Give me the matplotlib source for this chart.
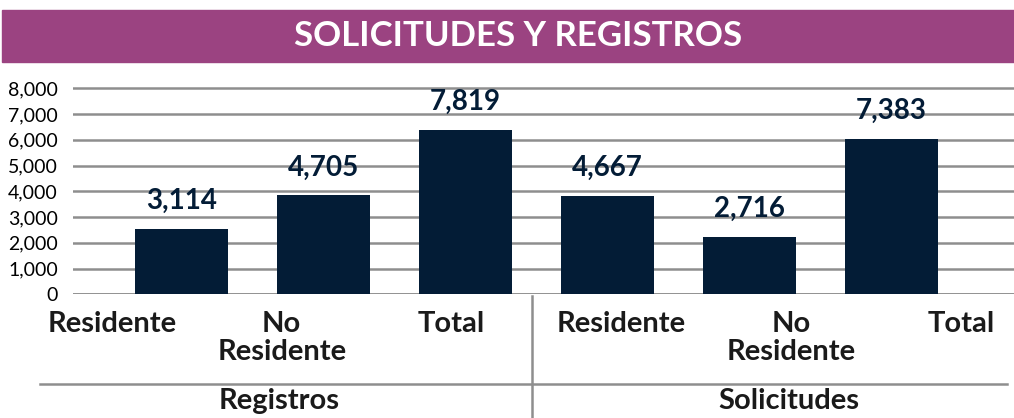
import numpy as np
import matplotlib
matplotlib.use("Agg")
import matplotlib.pyplot as plt
from matplotlib.patches import Rectangle
from matplotlib.lines import Line2D
import matplotlib.transforms as mtransforms

# datos
grupos = ["Registros", "Solicitudes"]
categorias = ["Residente", "No\nResidente", "Total", "Residente", "No\nResidente", "Total"]
valores = [3114, 4705, 7819, 4667, 2716, 7383]
ticks_txt = ["0", "1,000", "2,000", "3,000", "4,000", "5,000", "6,000", "7,000", "8,000"]

W, H = 1014, 418
morado = "#9B4381"
azul = "#031C36"
gris = "#8E8E8E"

plt.rcParams['font.family'] = ['Lato', 'DejaVu Sans']

def fx(px):
    return px / W

def fy(py):
    return 1 - py / H

fig = plt.figure(figsize=(W / 100, H / 100), dpi=100)

# banda del titulo
fig.add_artist(Rectangle((fx(2), fy(62)), fx(1012), 52 / H, transform=fig.transFigure,
                         color=morado, zorder=0))
fig.text(fx(518), fy(36), "SOLICITUDES Y REGISTROS", color="white", fontsize=25,
         fontweight="bold", ha="center", va="center")

ax = fig.add_axes([fx(73), fy(294.3), 1 - fx(73), (294.3 - 80) / H])
x = np.arange(len(valores))
ax.bar(x, valores, width=0.655, color=azul, zorder=3)

# el eje del original no coincide con la escala de las barras
escala = 1226
ax.set_ylim(0, 10205)
ax.set_xlim(-0.764, 5.863)
ax.set_yticks(np.arange(len(ticks_txt)) * escala)
ax.set_yticklabels(ticks_txt, fontsize=14, color="black")
ax.yaxis.grid(True, color=gris, linewidth=1.8, zorder=0)
ax.set_axisbelow(True)
ax.tick_params(axis="y", length=0, pad=11)
ax.set_xticks([])
for s in ax.spines.values():
    s.set_visible(False)
ax.axhline(0, color=gris, linewidth=1.8, zorder=2)

for xi, v in zip(x, valores):
    ax.annotate(f"{v:,}", (xi, v), xytext=(0, 28), textcoords="offset pixels",
                ha="center", va="center", fontsize=20, fontweight="bold", color=azul)

# etiquetas de categoria
trans = mtransforms.blended_transform_factory(ax.transData, fig.transFigure)
for i, c in enumerate(categorias):
    ax.text(-0.49 + 1.196 * i, fy(311), c, transform=trans, ha="center", va="top",
            fontsize=21, fontweight="bold", color="#1a1a1a", linespacing=1.1)

for g, gx in zip(grupos, [0.69, 4.28]):
    ax.text(gx, fy(401), g, transform=trans, ha="center", va="center",
            fontsize=21, fontweight="bold", color="#1a1a1a")

fig.add_artist(Line2D([fx(40), fx(1007)], [fy(384), fy(384)], transform=fig.transFigure,
                      color=gris, linewidth=1.8))
ax.add_artist(Line2D([2.47, 2.47], [fy(296), 0], transform=trans, color=gris,
                     linewidth=1.8, clip_on=False))

fig.savefig("out.png", dpi=100)
